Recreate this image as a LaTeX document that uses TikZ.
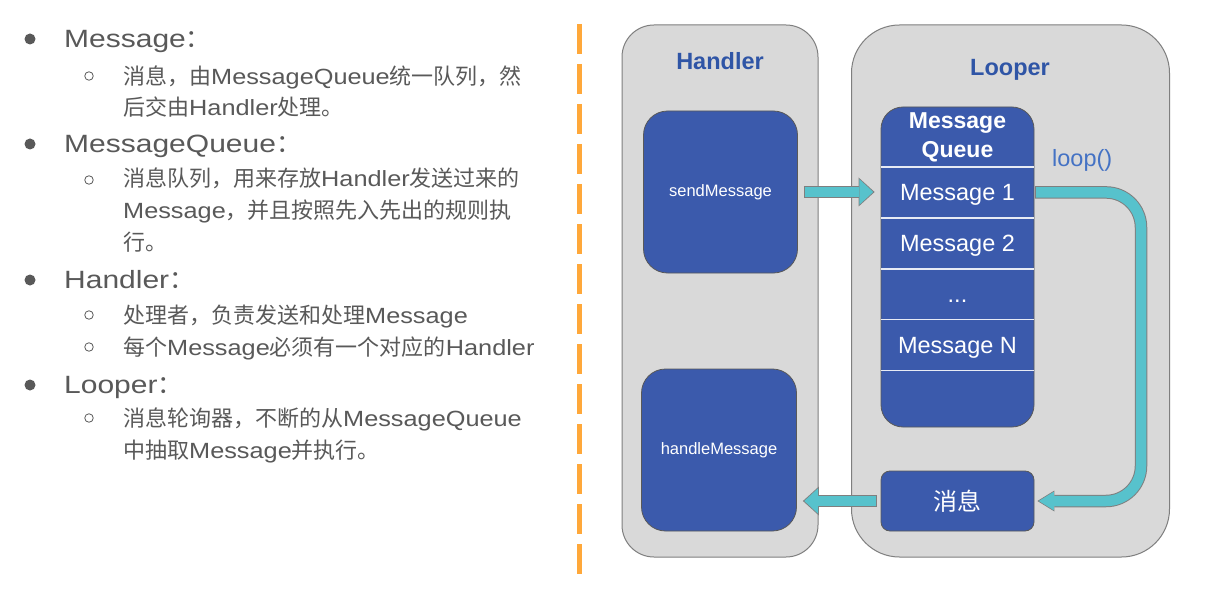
\documentclass[tikz,border=0pt]{standalone}
\usepackage{fontspec}
\setmainfont{Liberation Sans}
\newfontfamily\cnfont{Noto Sans CJK SC}
\newfontfamily\widefont[FakeStretch=1.15]{Liberation Sans}
\newfontfamily\headfont[FakeStretch=1.2]{Liberation Sans}
\usetikzlibrary{arrows.meta,positioning,calc}
\definecolor{textgray}{RGB}{89,89,89}
\definecolor{panelgray}{RGB}{217,217,217}
\definecolor{edgegray}{RGB}{127,127,127}
\definecolor{boxblue}{RGB}{59,90,172}
\definecolor{titleblue}{RGB}{47,85,166}
\definecolor{loopblue}{RGB}{68,114,196}
\definecolor{arrowteal}{RGB}{87,194,204}
\definecolor{dashorange}{RGB}{255,168,58}
\newcommand{\zh}[1]{{\cnfont #1}}

\begin{document}
\begin{tikzpicture}[
  x=1pt, y=-1pt,
  headitem/.style={anchor=base west, inner sep=0pt, text=textgray,
                   font=\headfont\fontsize{25}{30}\selectfont},
  subitem/.style={anchor=base west, inner sep=0pt, text=textgray, align=left,
                  font=\widefont\fontsize{22}{31.5}\selectfont},
  dot/.style={circle, fill=textgray, inner sep=0pt, minimum size=11pt},
  ring/.style={circle, draw=textgray, line width=0.8pt, inner sep=0pt,
               minimum size=8.5pt},
  sepline/.style={draw=dashorange, line width=5pt, dash pattern=on 30pt off 10pt},
  panel/.style={draw=edgegray, fill=panelgray, line width=1pt, inner sep=0pt},
  title/.style={anchor=base, inner sep=0pt, text=titleblue,
                font=\bfseries\fontsize{23.5}{28}\selectfont},
  bluebox/.style={draw=edgegray!70!black, fill=boxblue, line width=0.8pt,
                  text=white, inner sep=0pt},
  mqhead/.style={anchor=base, inner sep=0pt, text=white,
                 font=\bfseries\fontsize{23}{28}\selectfont},
  row/.style={minimum width=153pt, minimum height=50.5pt, inner sep=0pt,
              text=white, text height=17pt, text depth=0pt,
              font=\fontsize{23.5}{28}\selectfont},
  divider/.style={draw=white!88!boxblue, line width=1.5pt},
  arredge/.style={draw=edgegray, line width=11.5pt,
                  -{Triangle[length=16pt, width=29pt, line width=0pt]}},
  arrfill/.style={draw=arrowteal, line width=9.5pt, shorten <=1pt, shorten >=1.4pt,
                  -{Triangle[length=13.8pt, width=25.5pt, line width=0pt]}},
  loopedge/.style={arredge, line width=12.5pt, rounded corners=35pt,
                   -{Triangle[length=17pt, width=21pt, line width=0pt]}},
  loopfill/.style={arrfill, line width=10.5pt, rounded corners=35pt,
                   -{Triangle[length=15pt, width=18.5pt, line width=0pt]}}
]
  \path[use as bounding box, fill=white] (0,0) rectangle (1211,591);

  % --- Left: bullet list ---
  \foreach \y [count=\i] in {39,144,280,385}
    \node[dot] (dot\i) at (30,\y) {};
  \foreach \y [count=\i] in {76,180,315,347,418}
    \node[ring] (ring\i) at (89,\y) {};

  % (multi-line items sit on their last baseline)
  \node[headitem] (hmsg) at (64,47.5) {Message\zh{：}};
  \node[subitem] (smsg) at (123,116)
       {\zh{消息，由}MessageQueue\zh{统一队列，然}\\
        \zh{后交由}Handler\zh{处理。}};

  \node[headitem] (hqueue) at (64,152.5) {MessageQueue\zh{：}};
  \node[subitem] (squeue) at (123,250)
       {\zh{消息队列，用来存放}Handler\zh{发送过来的}\\
        Message\zh{，并且按照先入先出的规则执}\\
        \zh{行。}};

  \node[headitem] (hhandler) at (64,288.5) {Handler\zh{：}};
  \node[subitem] (shandlera) at (123,323) {\zh{处理者，负责发送和处理}Message};
  \node[subitem] (shandlerb) at (123,355) {\zh{每个}Message\zh{必须有一个对应的}Handler};

  \node[headitem] (hlooper) at (64,393.5) {Looper\zh{：}};
  \node[subitem] (slooper) at (123,458)
       {\zh{消息轮询器，不断的从}MessageQueue\\
        \zh{中抽取}Message\zh{并执行。}};

  % --- Dashed separator ---
  \coordinate (septop) at (579.5,24);
  \coordinate (sepbot) at (579.5,576);
  \draw[sepline] (septop) -- (sepbot);

  % --- Handler panel ---
  \node[panel, rounded corners=32pt, minimum width=196pt, minimum height=532pt]
       (hpanel) at (720,291) {};
  \node[title] (htitle) at (720,70) {Handler};
  \node[bluebox, rounded corners=24pt, minimum width=154pt, minimum height=162pt,
        font=\fontsize{16.5}{20}\selectfont] (send) at (720.5,192) {sendMessage};
  \node[bluebox, rounded corners=24pt, minimum width=155pt, minimum height=162pt,
        font=\fontsize{16.5}{20}\selectfont] (hand) at (719,450) {handleMessage};

  % --- Looper panel ---
  \node[panel, rounded corners=48pt, minimum width=318pt, minimum height=532pt]
       (lpanel) at (1010.5,291) {};
  \node[title] (ltitle) at (1010,76) {Looper};

  % MessageQueue column
  \node[bluebox, rounded corners=22pt, minimum width=153pt, minimum height=320pt]
       (mq) at (957.5,267) {};
  \node[mqhead] (mqtop) at (957.5,129) {Message};
  \node[mqhead] (mqbot) at (957.5,158) {Queue};
  \node[row, anchor=north] (m1) at (957.5,167) {Message 1};
  \node[row, below=0pt of m1] (m2) {Message 2};
  \node[row, below=0pt of m2] (m3) {...};
  \node[row, below=0pt of m3] (mN) {Message N};
  \foreach \r in {m1,m2,m3,mN}
    \draw[divider] (\r.north west) -- (\r.north east);
  \draw[divider] (mN.south west) -- (mN.south east);

  \node[bluebox, rounded corners=9pt, minimum width=153pt, minimum height=60pt,
        font=\cnfont\fontsize{24}{28}\selectfont] (msg) at (957.5,501) {消息};
  \node[anchor=base west, inner sep=0pt, text=loopblue,
        font=\fontsize{23.5}{28}\selectfont] (looplbl) at (1052,167) {loop()};

  % --- Block arrows ---
  \draw[arredge] ([xshift=6pt]send.east) -- ([xshift=-6pt]send.east -| mq.west);
  \draw[arrfill] ([xshift=6pt]send.east) -- ([xshift=-6pt]send.east -| mq.west);

  \draw[arredge] ([xshift=-4pt]msg.west) -- ([xshift=6pt]msg.west -| hand.east);
  \draw[arrfill] ([xshift=-4pt]msg.west) -- ([xshift=6pt]msg.west -| hand.east);

  \coordinate (looplane) at (1141,300);
  \draw[loopedge] ([xshift=1pt]m1.east) -| (looplane) |- ([xshift=3pt]msg.east);
  \draw[loopfill] ([xshift=1pt]m1.east) -| (looplane) |- ([xshift=3pt]msg.east);
\end{tikzpicture}
\end{document}
